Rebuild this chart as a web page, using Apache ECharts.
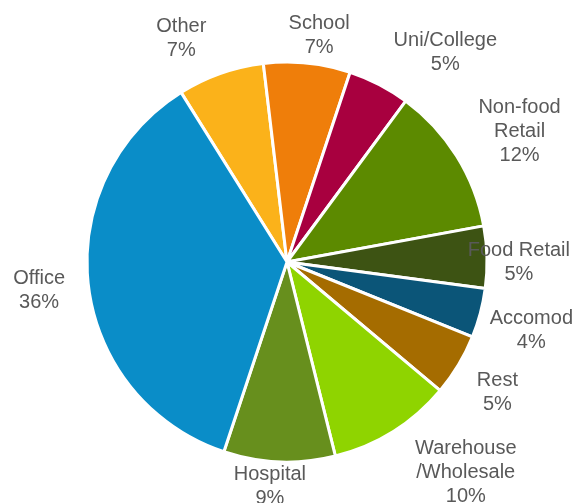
<!DOCTYPE html>
<html>
<head>
<meta charset="utf-8">
<script src="https://cdn.jsdelivr.net/npm/echarts@6/dist/echarts.min.js"></script>
<style>
  html, body { margin: 0; padding: 0; background: #ffffff; }
  #chart { width: 588px; height: 503px; }
</style>
</head>
<body>
<div id="chart"></div>
<script>
// Floor-area share by building type (percent), clockwise from "Other"
const categories = ['Other', 'School', 'Uni/College', 'Non-food\nRetail', 'Food Retail',
                    'Accomod', 'Rest', 'Warehouse\n/Wholesale', 'Hospital', 'Office'];
const shares = [7, 7, 5, 12, 5, 4, 5, 10, 9, 36];
const sliceColors = ['#fbb21a', '#ef7e0a', '#a8003f', '#5c8a00', '#3d5313',
                     '#0b5578', '#a56c00', '#8fd400', '#678f1d', '#0a8dc8'];

// Layout of the pie and its "best fit" style labels
const CENTER = [287, 262];
const RADIUS = 200;
const START_ANGLE = 122;
const LABEL_GAP = 12;
const EDGE = 18;
const WIDTH = 588;
// small per-label tweaks [dx, dy] on top of the bisector placement
const labelNudge = [[-25, 6], [8, 11], [40, 19], [7, 10], [0, 7],
                    [3, 2], [3, 6], [36, -18], [-8, -13], [-9, 0]];

const total = shares.reduce((a, b) => a + b, 0);
const cumulative = [];
shares.reduce((acc, v, i) => { cumulative[i] = acc; return acc + v; }, 0);

const chart = echarts.init(document.getElementById('chart'), null, { renderer: 'canvas' });

chart.setOption({
  backgroundColor: '#ffffff',
  animation: false,
  series: [{
    type: 'pie',
    center: CENTER,
    radius: RADIUS,
    startAngle: START_ANGLE,
    clockwise: true,
    avoidLabelOverlap: false,
    data: categories.map((name, i) => ({
      name: name,
      value: shares[i],
      itemStyle: { color: sliceColors[i] }
    })),
    itemStyle: { borderColor: '#ffffff', borderWidth: 3 },
    label: {
      show: true,
      position: 'outside',
      formatter: p => p.name + '\n' + p.value + '%',
      fontFamily: 'Liberation Sans, Arial, sans-serif',
      fontSize: 20,
      lineHeight: 24,
      color: '#595959',
      align: 'center'
    },
    labelLine: { show: false },
    emphasis: { disabled: true },
    labelLayout: function (params) {
      const i = params.dataIndex;
      const mid = (START_ANGLE - (cumulative[i] + shares[i] / 2) / total * 360) * Math.PI / 180;
      const cx = Math.cos(mid), sy = Math.sin(mid);
      const hw = params.labelRect.width / 2;
      const hh = params.labelRect.height / 2;
      // push the text box out along the bisector until it clears the rim
      const d = RADIUS + LABEL_GAP + hw * Math.abs(cx) + hh * Math.abs(sy);
      let x = CENTER[0] + d * cx;
      let y = CENTER[1] - d * sy;
      x = Math.min(x, WIDTH - EDGE - hw);
      x = Math.max(x, EDGE + hw);
      x += labelNudge[i][0];
      y += labelNudge[i][1];
      return { x: x, y: y, align: 'center', verticalAlign: 'middle' };
    }
  }]
});
</script>
</body>
</html>
